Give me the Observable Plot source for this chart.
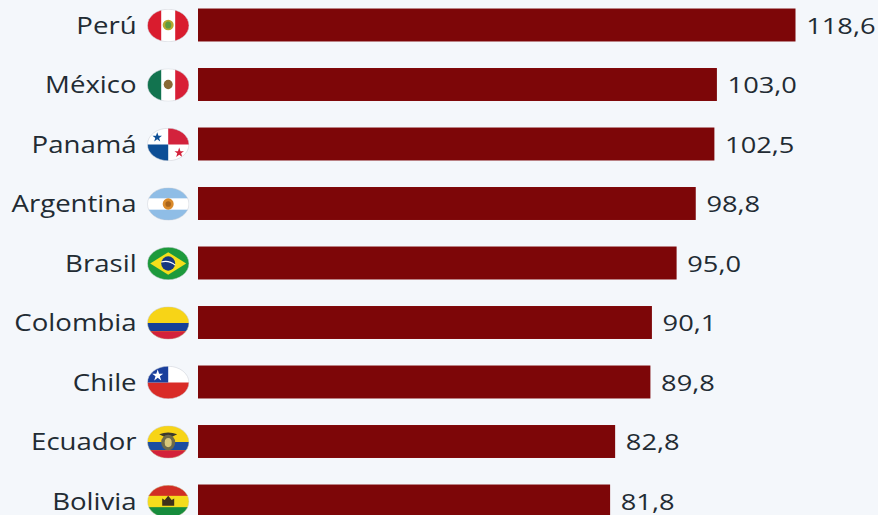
<!DOCTYPE html>
<html><head><meta charset="utf-8">
<script src="https://cdn.jsdelivr.net/npm/d3@7"></script>
<script src="https://cdn.jsdelivr.net/npm/@observablehq/plot@0.6"></script>
<style>
html,body{margin:0;padding:0;background:#f4f7fb;overflow:hidden}
#c{width:878px;height:515px;overflow:hidden}
</style></head><body><div id="c"></div>
<script>
const countries = ["Perú","México","Panamá","Argentina","Brasil","Colombia","Chile","Ecuador","Bolivia"];
const values = [118.6,103.0,102.5,98.8,95.0,90.1,89.8,82.8,81.8];
const valueLabels = ["118,6","103,0","102,5","98,8","95,0","90,1","89,8","82,8","81,8"];
const flagArt = [
 '<rect width="84" height="64" fill="#fff"/><rect width="28" height="64" fill="#d91c2e"/><rect x="56" width="28" height="64" fill="#d91c2e"/><ellipse cx="42" cy="31" rx="11" ry="10" fill="#b5a82e"/><ellipse cx="42" cy="31" rx="6" ry="7" fill="#5f9a3e"/>',
 '<rect width="84" height="64" fill="#fff"/><rect width="28" height="64" fill="#12734f"/><rect x="56" width="28" height="64" fill="#d81f36"/><ellipse cx="42" cy="31" rx="9" ry="9" fill="#8a6a35"/>',
 '<rect width="84" height="64" fill="#fff"/><rect x="42" width="42" height="32" fill="#d3233c"/><rect y="32" width="42" height="32" fill="#0d4f96"/><path d="M20 8l2.500 7h7l-5.600 4.200 2.100 7-6-4.400-6 4.400 2.100-7-5.600-4.200h7z" fill="#0d4f96"/><path d="M64 38l2.500 7h7l-5.600 4.200 2.100 7-6-4.400-6 4.400 2.100-7-5.600-4.200h7z" fill="#d3233c"/>',
 '<rect width="84" height="64" fill="#fff"/><rect width="84" height="21" fill="#8fbde6"/><rect y="43" width="84" height="21" fill="#8fbde6"/><circle cx="42" cy="32" r="11" fill="#d98a2b"/><circle cx="42" cy="32" r="5.500" fill="#a8641c"/>',
 '<rect width="84" height="64" fill="#1d9a3c"/><path d="M42 10L78 32 42 54 6 32z" fill="#f5de1b"/><circle cx="42" cy="32" r="14" fill="#17377f"/><path d="M28 29q16-4 28 6" stroke="#fff" stroke-width="2" fill="none"/>',
 '<rect width="84" height="64" fill="#f7d417"/><rect y="32" width="84" height="16" fill="#163f98"/><rect y="48" width="84" height="16" fill="#d3213a"/>',
 '<rect width="84" height="64" fill="#fff"/><rect y="32" width="84" height="32" fill="#d92b27"/><rect width="42" height="32" fill="#1a3f9c"/><path d="M21 7l2.800 8h8.200l-6.600 5 2.500 8-6.900-5-6.900 5 2.500-8-6.600-5h8.200z" fill="#fff"/>',
 '<rect width="84" height="64" fill="#f7d417"/><rect y="32" width="84" height="16" fill="#1b4da0"/><rect y="48" width="84" height="16" fill="#d3213a"/><path d="M24 17q18-7 36 0l-10 5H34z" fill="#3c3a2c"/><ellipse cx="42" cy="33" rx="14" ry="15" fill="#6e6a4a"/><ellipse cx="42" cy="33" rx="7" ry="9" fill="#d8c77a"/>',
 '<rect width="84" height="64" fill="#f5dc1c"/><rect width="84" height="21" fill="#d12e24"/><rect y="43" width="84" height="21" fill="#168c3c"/><path d="M30 40V26l5 3 7-8 7 8 5-3v14z" fill="#3f321a"/>'
];
const flagUri = art => "data:image/svg+xml," + encodeURIComponent(
 '<svg xmlns="http://www.w3.org/2000/svg" viewBox="0 0 84 64" preserveAspectRatio="none"><defs><clipPath id="e"><ellipse cx="42" cy="32" rx="41.500" ry="31.500"/></clipPath></defs><g clip-path="url(#e)">' + art + '</g><ellipse cx="42" cy="32" rx="41.500" ry="31.500" fill="none" stroke="#c9ced6" stroke-width="1"/></svg>');
const rows = countries.map((name,i)=>({name,value:values[i],label:valueLabels[i],flag:flagUri(flagArt[i])}));

// The reference is horizontally stretched by 1.2; the plot is drawn narrow and the SVG widened.
const stretch = 1.2;
const W = 878/stretch;
const font = "'Open Sans', sans-serif";
const plot = Plot.plot({
  width: W, height: 515,
  marginLeft:0, marginRight:0, marginTop:0, marginBottom:0,
  style:{background:"transparent", fontFamily:font, overflow:"hidden"},
  x:{domain:[0,118.6], range:[198/stretch,795.5/stretch], axis:null},
  y:{domain:countries, range:[-4.75,530.75], paddingInner:0.446, paddingOuter:0.223, round:false, axis:null},
  marks:[
    Plot.barX(rows,{y:"name",x:"value",fill:"#7d0608"}),
    Plot.text(rows,{y:"name",frameAnchor:"left",dx:136/stretch,dy:1,text:"name",textAnchor:"end",fontSize:23,fill:"#222b33",fontFamily:font}),
    Plot.image(rows,{y:"name",frameAnchor:"left",dx:167.6/stretch,width:42/stretch,height:33,src:"flag",preserveAspectRatio:"none"}),
    Plot.text(rows,{y:"name",x:"value",dx:8.4,dy:1,text:"label",textAnchor:"start",fontSize:22.7,fill:"#222b33",fontFamily:font})
  ]
});
plot.setAttribute("preserveAspectRatio","none");
plot.style.width="878px"; plot.style.height="515px"; plot.style.maxWidth="none";
plot.setAttribute("width",878);
document.getElementById("c").appendChild(plot);
</script></body></html>
